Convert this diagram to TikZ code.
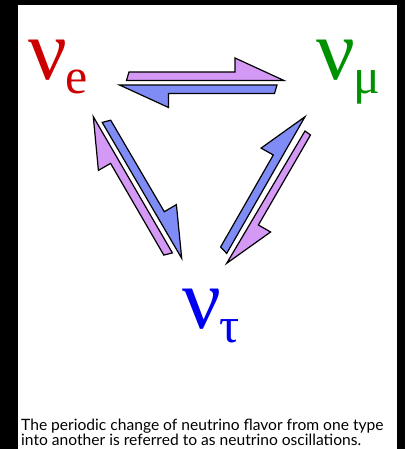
\documentclass[tikz,border=0pt]{standalone}
\usepackage{fontspec}
\setmainfont{Liberation Serif}
\newfontfamily\capfont{Lato}
\usepackage{xcolor}
\definecolor{nuRed}{RGB}{204,0,0}
\definecolor{nuGreen}{RGB}{0,145,0}
\definecolor{nuBlue}{RGB}{0,0,240}
\definecolor{harpPink}{RGB}{212,152,245}
\definecolor{harpBlue}{RGB}{128,140,245}
\newcommand{\flav}[1]{ν\kern-2pt\raisebox{-14pt}{\fontsize{50}{50}\selectfont #1}}

\begin{document}
\begin{tikzpicture}[x=1pt, y=-1pt,
flavor/.style={inner sep=0pt, anchor=base west,
font=\fontsize{86}{86}\selectfont},
pinkharp/.style={draw=black, line width=1.2pt, line join=miter, fill=harpPink},
blueharp/.style={draw=black, line width=1.2pt, line join=miter, fill=harpBlue},
caption/.style={inner sep=0pt, anchor=base west,
font=\capfont\fontsize{15.6}{15}\selectfont}]
\useasboundingbox (0,0) rectangle (405,449);
\fill[black] (0,0) rectangle (405,449);
\fill[white] (18,5) rectangle (397,449);
% flavours
\node[flavor, text=nuRed]   (ve)   at (28,80)   {\flav{e}};
\node[flavor, text=nuGreen] (vmu)  at (316,80)  {\flav{μ}};
\node[flavor, text=nuBlue]  (vtau) at (182,328) {\flav{τ}};
% e <-> mu
\draw[pinkharp] (284,80.5) -- (235,58) -- (235,72) -- (129,72) -- (126.5,80.5) -- cycle;
\draw[blueharp] (119.5,85) -- (168.5,107.5) -- (168.5,93.5) -- (274.5,93.5) -- (277,85) -- cycle;
% e <-> tau
\draw[pinkharp] (93.3,116.7) -- (98.4,170.4) -- (110.6,163.4) -- (163.8,255.1) -- (172.4,252.9) -- cycle;
\draw[blueharp] (181.7,258.3) -- (176.4,204.6) -- (164.3,211.7) -- (110.7,120.2) -- (102.2,122.4) -- cycle;
% mu <-> tau
\draw[blueharp] (305,116.7) -- (261.1,148.1) -- (273.3,155) -- (220.6,247) -- (226.7,253.4) -- cycle;
\draw[pinkharp] (226.7,263.3) -- (270.6,232) -- (258.4,225) -- (310.5,135) -- (305,131) -- cycle;
% caption
\node[caption] (line1) at (21,430.5) {The periodic change of neutrino flavor from one type};
\node[caption] (line2) at (21,445.5) {into another is referred to as neutrino oscillations.};
\end{tikzpicture}
\end{document}
